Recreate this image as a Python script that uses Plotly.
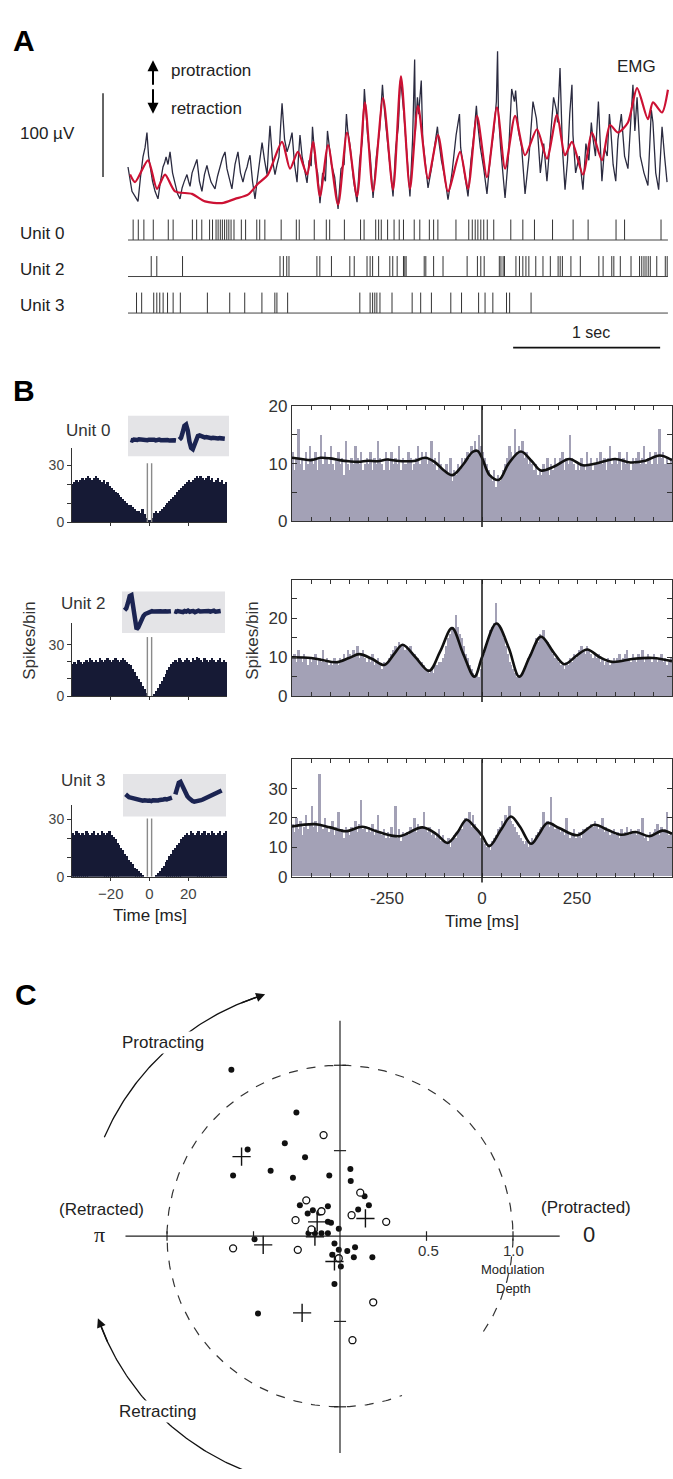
import numpy as np
import plotly.graph_objects as go

W, H = 673, 1479
FONT = "Liberation Sans, Arial, Helvetica, sans-serif"

def X(p): return p / W
def Y(p): return 1 - p / H
def dxd(a, b): return [a / W, b / W]
def dyd(top, bottom): return [1 - bottom / H, 1 - top / H]

# ---------------- Panel A data ----------------
emg_red_t = [0.014,0.048,0.136,0.197,0.252,0.320,0.435,0.524,0.639,0.728,0.816,0.884,0.952,1.048,1.102,1.156,
             1.218,1.259,1.306,1.361,1.429,1.490,1.558,1.612,1.667,1.735,1.803,1.857,1.918,1.973,2.041,2.109,
             2.177,2.259,2.313,2.374,2.442,2.510,2.565,2.633,2.701,2.782,2.850,2.918,2.973,3.020,3.095,3.156,
             3.224,3.279,3.333,3.401,3.463,3.537,3.571,3.633,3.673]
emg_red_uv = [38,29,55,21,38,18,15,6,4,9,14,27,38,77,45,65,
              38,77,12,73,2,88,12,124,18,129,20,155,21,120,33,85,
              18,65,21,108,35,118,45,108,61,92,57,109,61,77,38,88,
              55,97,88,100,141,104,124,112,139]

emg_black = [
    (0.000,47),(0.013,30),(0.027,18),(0.048,12),(0.068,6),(0.085,35),(0.102,59),(0.116,70),(0.129,88),(0.140,60),
    (0.150,47),(0.167,30),(0.184,18),(0.194,14),(0.204,9),(0.221,30),(0.238,47),(0.249,52),(0.259,59),(0.272,50),
    (0.286,65),(0.303,40),(0.320,26),(0.337,15),(0.354,9),(0.368,22),(0.381,29),(0.391,34),(0.401,38),(0.412,30),
    (0.422,24),(0.436,40),(0.449,47),(0.459,50),(0.469,56),(0.486,30),(0.503,18),(0.520,38),(0.537,49),(0.551,38),
    (0.565,29),(0.578,25),(0.592,21),(0.609,36),(0.626,47),(0.643,58),(0.660,65),(0.673,45),(0.687,35),(0.697,28),
    (0.707,21),(0.728,50),(0.748,65),(0.765,40),(0.782,29),(0.796,40),(0.810,47),(0.820,55),(0.830,61),(0.847,30),
    (0.864,9),(0.878,30),(0.891,47),(0.902,60),(0.912,76),(0.929,55),(0.946,38),(0.956,70),(0.966,96),(0.983,55),
    (1.000,38),(1.014,50),(1.027,59),(1.038,95),(1.048,123),(1.065,80),(1.082,65),(1.099,75),(1.116,88),(1.133,50),
    (1.150,29),(1.160,60),(1.170,85),(1.184,60),(1.197,47),(1.208,35),
    (1.218,28),(1.232,55),(1.246,48),(1.255,95),(1.262,80),(1.275,50),(1.290,40),(1.306,4),(1.324,40),(1.343,30),
    (1.357,90),(1.365,78),(1.384,50),(1.406,35),(1.429,-3),(1.449,45),(1.470,50),(1.486,110),(1.494,92),(1.512,70),
    (1.535,30),(1.558,5),(1.576,55),(1.594,78),(1.608,140),(1.616,120),(1.630,85),(1.648,60),(1.667,10),(1.690,60),
    (1.712,92),(1.731,145),(1.739,125),(1.758,90),(1.780,50),(1.803,12),(1.821,70),(1.839,95),(1.853,150),(1.861,140),
    (1.877,110),(1.898,65),(1.918,12),(1.936,80),(1.950,175),(1.955,90),(1.969,130),(1.977,110),(1.995,150),(2.005,80),
    (2.020,55),(2.041,22),(2.064,45),(2.087,70),(2.105,95),(2.113,80),(2.132,55),(2.155,35),(2.177,8),(2.204,40),
    (2.232,85),(2.255,110),(2.263,70),(2.280,50),(2.296,30),(2.313,12),(2.333,55),(2.353,85),(2.370,120),(2.378,100),
    (2.397,70),(2.420,45),(2.442,15),(2.465,60),(2.488,90),(2.506,125),(2.514,185),(2.520,110),(2.535,70),(2.550,40),
    (2.565,10),(2.588,60),(2.610,140),(2.629,125),(2.637,138),(2.656,90),(2.678,70),(2.701,15),(2.728,60),(2.755,125),
    (2.778,105),(2.786,90),(2.805,40),(2.828,75),(2.850,30),(2.873,80),(2.895,130),(2.914,115),(2.922,100),(2.939,165),
    (2.955,70),(2.973,20),(2.990,55),(3.005,110),(3.020,145),(3.027,85),(3.045,40),(3.070,60),(3.095,20),(3.115,75),
    (3.135,55),(3.152,100),(3.160,85),(3.180,60),(3.200,125),(3.224,30),(3.242,70),(3.260,60),(3.275,110),(3.283,95),
    (3.300,50),(3.318,30),(3.333,80),(3.356,110),(3.378,60),(3.401,45),(3.420,100),(3.435,145),(3.448,90),(3.463,130),
    (3.485,60),(3.510,40),(3.537,25),(3.550,80),(3.560,115),(3.571,100),(3.590,40),(3.610,20),(3.633,95),(3.650,60),
    (3.667,29)]
emg_black_t = [p[0] for p in emg_black]
emg_black_uv = [p[1] for p in emg_black]

unit0_spikes = [0.035,0.070,0.108,0.172,0.274,0.307,0.438,0.467,0.502,0.555,0.575,0.599,0.613,0.628,0.642,0.657,
                0.672,0.686,0.701,0.721,0.771,0.800,0.876,0.896,0.931,1.042,1.145,1.165,1.267,1.349,1.372,1.472,
                1.582,1.606,1.685,1.705,1.723,1.766,1.810,1.845,1.874,1.947,1.985,2.050,2.079,2.108,2.231,2.318,
                2.342,2.362,2.380,2.400,2.420,2.444,2.488,2.604,2.686,2.765,2.888,3.028,3.130,3.320,3.378,3.626]
unit2_spikes = [0.158,0.196,0.371,1.034,1.057,1.080,1.095,1.285,1.305,1.384,1.509,1.539,1.626,1.647,1.664,1.705,
                1.781,1.801,1.831,1.874,1.883,1.892,2.015,2.026,2.079,2.143,2.307,2.377,2.400,2.423,2.526,2.537,
                2.552,2.561,2.639,2.663,2.686,2.707,2.727,2.774,2.823,2.873,2.926,2.940,2.955,3.013,3.077,3.203,
                3.232,3.291,3.305,3.349,3.422,3.480,3.495,3.510,3.524,3.539,3.553,3.597,3.655,3.668]
unit3_spikes = [0.058,0.093,0.175,0.196,0.216,0.239,0.269,0.307,0.356,0.540,0.692,0.794,0.911,0.999,1.013,1.086,
                1.577,1.647,1.664,1.679,1.693,1.714,1.796,1.933,1.991,2.064,2.196,2.269,2.385,2.429,2.482,2.575,
                2.596,2.742]
raster_units = ["Unit 0", "Unit 2", "Unit 3"]

# ---------------- Panel B data ----------------
acg_u0 = [20,21,22,21,22,23,22,23,24,23,22,23,24,23,22,21,22,20,21,19,
          18,17,16,15,14,13,12,11,10,9,9,8,7,6,6,5,7,4,2,1,
          1,2,5,6,5,6,7,8,9,10,11,12,13,14,16,17,18,19,20,21,
          22,21,22,23,24,23,24,23,22,23,24,22,23,21,22,23,21,22,20,21]
acg_u2 = [19,20,19,21,20,19,20,21,20,22,21,20,21,20,22,21,20,21,22,21,
          20,21,22,21,20,21,22,21,20,19,18,16,14,12,10,8,6,4,2,0,
          0,0,1,3,5,7,9,11,13,15,17,19,20,21,20,22,21,20,21,22,
          21,20,22,21,23,22,21,20,22,21,20,21,22,21,20,21,22,20,21,20]
acg_u3 = [23,22,24,23,22,23,22,24,23,22,23,24,22,23,22,24,23,22,23,24,
          22,21,20,18,17,15,14,12,11,9,8,7,5,4,3,2,1,0,0,0,
          0,0,0,1,2,3,5,6,8,9,11,12,14,15,17,18,20,21,22,23,
          22,24,23,22,23,24,22,23,24,22,23,22,24,23,22,23,24,22,23,24]
acg_refractory_top = [31, 34.5, 30.5]

ccg_u0 = [12,9,11,16,10,11,9,12,10,13, 11,10,12,9,11,15,10,12,11,10,
          13,10,9,11,12,10,11,8,14,10, 9,11,10,13,11,10,12,9,10,11,
          10,12,9,11,10,14,11,10,9,12, 11,9,12,10,11,10,13,9,11,10,
          10,12,11,9,10,11,13,10,12,11, 12,10,11,14,10,11,9,12,10,9,
          9,10,8,11,7,9,8,10,9,11, 10,11,12,11,13,12,14,12,15,13,
          12,11,10,9,8,7,9,6,8,7, 8,9,10,11,13,12,11,16,12,13,
          12,14,11,12,10,11,10,9,10,8, 9,8,10,9,11,8,10,9,11,10,
          10,11,12,9,11,10,15,11,10,9, 10,9,11,10,9,12,10,11,9,10,
          11,10,12,10,11,9,11,13,10,11, 11,10,12,9,11,10,12,10,9,11,
          10,11,12,10,11,13,10,11,12,10, 11,12,10,16,11,12,10,11,10,11]
ccg_u2 = [10,11,9,12,10,9,11,10,8,10, 9,10,11,8,10,9,12,9,10,8,
          9,8,10,9,8,10,9,11,10,12, 11,10,12,11,13,10,11,12,10,9,
          10,9,11,8,9,10,8,7,9,8, 9,10,11,12,13,12,14,13,13,12,
          13,12,13,11,11,10,10,9,9,8, 7,7,6,7,6,8,8,9,9,10,
          11,13,15,16,18,17,21,18,16,15, 13,11,10,8,7,6,5,6,5,7,
          9,11,13,15,17,18,19,24,19,18, 17,15,13,11,9,8,7,6,5,5,
          5,6,7,8,10,11,12,13,15,14, 16,15,17,14,14,13,12,11,10,10,
          9,8,8,7,9,8,10,9,11,10, 11,12,13,12,11,13,12,11,10,11,
          10,11,9,10,8,9,10,8,9,10, 9,10,11,9,10,11,12,10,9,11,
          10,9,11,10,12,9,10,11,10,9, 11,10,9,10,11,9,10,8,9,10]
ccg_u3 = [18,15,20,16,19,14,17,21,16,18, 24,17,19,15,35,18,16,20,17,15,
          16,19,14,17,22,15,16,13,17,15, 14,17,16,19,15,18,26,16,17,15,
          17,15,18,14,16,21,15,14,16,13, 15,13,17,14,24,13,16,12,15,14,
          15,14,17,16,20,15,18,16,17,22, 16,15,17,14,15,13,14,16,12,14,
          12,11,13,10,12,14,13,15,17,16, 18,20,19,22,17,21,18,16,15,13,
          12,11,10,11,9,12,13,14,16,17, 19,18,21,20,24,19,18,17,15,14,
          13,12,11,12,10,11,13,12,14,15, 16,17,22,18,19,17,27,18,16,17,
          17,15,16,14,20,15,13,14,16,13, 14,15,13,16,15,17,16,18,17,19,
          18,16,17,20,15,17,16,14,15,16, 14,15,13,16,14,15,17,14,16,15,
          15,14,16,15,20,13,14,12,15,14, 15,16,18,14,17,15,16,22,14,15]

curve_u0_t = [-500,-475,-450,-425,-400,-375,-350,-325,-300,-275,-250,-225,-200,-175,-150,-125,-100,-78,-50,-25,-12,0,
              20,45,70,102,130,155,190,230,265,300,350,390,430,467,500]
curve_u0_v = [11.0,10.8,10.6,11.0,10.9,10.6,10.4,10.3,10.5,10.4,10.7,10.5,10.4,10.5,11.0,10.3,8.8,8.0,9.8,12.0,12.2,11.0,
              8.0,7.2,10.0,12.1,10.5,8.8,9.5,10.8,9.7,10.0,10.8,10.2,10.5,11.4,10.6]
curve_u2_t = [-500,-450,-420,-384,-350,-323,-290,-257,-230,-209,-175,-139,-110,-79,-50,-20,0,38,70,98,125,155,190,217,
              250,277,310,343,400,450,500]
curve_u2_v = [10.0,9.8,9.3,8.7,9.8,10.8,9.6,8.0,11.0,13.2,10.0,6.5,11.5,17.5,11.0,5.0,10.0,18.7,12.5,5.0,10.0,15.3,11.0,
              8.2,10.5,12.0,10.0,8.8,9.6,9.8,9.0]
curve_u3_t = [-500,-440,-400,-358,-315,-272,-217,-157,-120,-91,-65,-41,-20,0,19,50,76,100,129,150,172,203,251,296,330,
              366,405,440,475,500]
curve_u3_v = [17.1,17.9,16.8,15.5,17.0,15.2,13.8,16.8,14.5,11.5,15.0,19.4,17.0,14.0,10.4,16.0,20.5,17.0,11.2,14.5,18.3,
              16.6,14.1,17.7,16.0,14.3,15.2,13.8,15.7,14.6]

wave_u0 = [-0.22,-0.25,-0.2,-0.24,-0.22,-0.18,-0.2,-0.22,-0.19,-0.2,-0.23,-0.2,-0.18,-0.22,-0.2,-0.24,-0.21,-0.2,
           -0.23,-0.22,-0.2,-0.24,-0.22,-0.25,-0.23,-0.26,-0.24,-0.25, None,
           -0.2,-0.1,0.2,0.55,0.62,0.3,-0.3,-0.65,-0.72,-0.5,-0.2,0.0,0.03,-0.02,-0.05,-0.08,-0.06,-0.1,-0.08,
           -0.12,-0.1,-0.13,-0.1,-0.14,-0.12,-0.15,-0.13,-0.15]
wave_u2 = [0.1,0.2,0.5,0.85,0.9,0.4,-0.4,-0.9,-0.8,-0.55,-0.35,-0.2,-0.1,-0.05,0,0.02,0.05,0.03,0.05,0.04,0.06,
           0.05,0.04,0.06,0.05,0.03,0.06,0.05, None,
           0.05,0.02,0.06,0.03,0.05,0,0.06,0.03,0.08,0.02,0.05,0.06,0.0,0.05,0.08,0.03,0.04,0.07,0.02,0.05,0.06,
           0.03,0.05,0.08,0.02,0.05,0.04,0.06]
wave_u3 = [0.05,-0.05,-0.1,-0.12,-0.15,-0.18,-0.2,-0.22,-0.25,-0.24,-0.28,-0.26,-0.3,-0.28,-0.27,-0.3,-0.26,-0.28,
           -0.25,-0.27,-0.24,-0.25,-0.22,-0.2,-0.22,-0.18,-0.15,-0.12, None,
           0.05,0.3,0.65,0.7,0.5,0.3,0.1,-0.05,-0.15,-0.25,-0.3,-0.33,-0.32,-0.3,-0.3,-0.25,-0.22,-0.18,-0.15,
           -0.1,-0.05,0.0,0.05,0.1,0.15,0.18,0.22,0.25]

# ---------------- Panel C data (modulation vectors) ----------------
c_filled_x = [-0.628,-0.252,-0.319,-0.534,-0.202,-0.618,-0.401,-0.272,-0.062,0.060,0.062,0.142,0.167,0.105,-0.232,
              -0.187,-0.157,-0.120,-0.070,-0.070,-0.052,-0.007,-0.182,-0.145,-0.107,-0.070,-0.494,-0.032,-0.007,
              0.042,0.087,0.080,0.187,-0.045,0.005,-0.032,-0.474]
c_filled_y = [0.973,0.723,0.543,0.506,0.461,0.355,0.382,0.341,0.355,0.393,0.322,0.233,0.180,0.155,0.180,
              0.132,0.151,0.136,0.174,0.083,0.078,0.043,0.016,0.016,0.016,0.016,-0.019,-0.043,-0.081,
              -0.087,-0.066,-0.124,-0.124,-0.110,-0.178,-0.281,-0.453]
c_open_x = [-0.095,0.117,-0.195,-0.107,0.067,-0.257,0.267,-0.165,-0.618,-0.244,-0.007,0.192,0.072]
c_open_y = [0.591,0.254,0.209,0.145,0.122,0.093,0.083,0.039,-0.072,-0.081,-0.130,-0.388,-0.610]
c_cross_x = [-0.569,-0.444,-0.132,-0.145,0.147,-0.032,-0.219]
c_cross_y = [0.465,-0.052,0.083,-0.004,0.103,-0.149,-0.450]

# ================= figure =================
fig = go.Figure()
shapes, annots = [], []

def txt(s, x, y, size=17, xa="center", ya="middle", color="#222", family=FONT, **kw):
    annots.append(dict(text=s, x=X(x), y=Y(y), xref="paper", yref="paper", showarrow=False,
                       font=dict(size=size, family=family, color=color), xanchor=xa, yanchor=ya, **kw))

# --- Panel A ---
fig.add_trace(go.Scatter(x=emg_black_t, y=emg_black_uv, mode="lines",
                         line=dict(color="#2b2b40", width=1.3), xaxis="x", yaxis="y"))
fig.add_trace(go.Scatter(x=emg_red_t, y=emg_red_uv, mode="lines",
                         line=dict(color="#cc1133", width=2.2, shape="spline", smoothing=0.7), xaxis="x", yaxis="y"))
t_end = 3.673
for row, spikes in zip([2, 1, 0], [unit0_spikes, unit2_spikes, unit3_spikes]):
    xs, ys = [], []
    for s in spikes:
        xs += [s, s, None]
        ys += [row, row + 0.56, None]
    fig.add_trace(go.Scatter(x=xs, y=ys, mode="lines", line=dict(color="#333", width=1),
                             xaxis="x2", yaxis="y2"))
    shapes.append(dict(type="line", xref="x2", yref="y2", x0=0, x1=t_end, y0=row, y1=row,
                       line=dict(color="#444", width=1)))
shapes.append(dict(type="line", xref="x", yref="y", x0=-0.17, x1=-0.17, y0=35, y1=135,
                   line=dict(color="#111", width=1.3)))
shapes.append(dict(type="line", xref="x2", yref="y2", x0=2.62, x1=3.62, y0=-0.946, y1=-0.946,
                   line=dict(color="#111", width=1.6)))

txt("<b>A</b>", 24, 32, size=30, color="#000")
txt("protraction", 169, 62, xa="left")
txt("retraction", 169, 101, xa="left")
txt("100 µV", 18, 126, xa="left")
txt("EMG", 615, 58, size=17, xa="left")
txt("1 sec", 591, 328, size=16)
for lab, yy in zip(raster_units, [227, 264, 300]):
    txt(lab, 18, yy, xa="left")
for yh, ay in [(52, 26), (106, -26)]:
    annots.append(dict(x=X(153), y=Y(yh), xref="paper", yref="paper", ax=0, ay=ay, showarrow=True,
                       arrowhead=2, arrowsize=1.1, arrowwidth=2, arrowcolor="#000", text=""))

# --- Panel B ACGs ---
acg_x = np.arange(-39.5, 40, 1.0)
for i, (vals, top) in enumerate(zip([acg_u0, acg_u2, acg_u3], acg_refractory_top)):
    ax_n = 3 + i
    fig.add_trace(go.Bar(x=acg_x, y=vals, width=1.0, marker=dict(color="#161a35", line=dict(width=0)),
                         xaxis=f"x{ax_n}", yaxis=f"y{ax_n}"))
    for xv in (-1.1, 1.1):
        shapes.append(dict(type="line", xref=f"x{ax_n}", yref=f"y{ax_n}", x0=xv, x1=xv, y0=0, y1=top,
                           line=dict(color="#8a8a8a", width=1.4)))

# --- Panel B CCGs ---
ccg_x = np.arange(-497.5, 500, 5.0)
for i, (vals, ct, cv) in enumerate(zip([ccg_u0, ccg_u2, ccg_u3],
                                       [curve_u0_t, curve_u2_t, curve_u3_t],
                                       [curve_u0_v, curve_u2_v, curve_u3_v])):
    ax_n = 6 + i
    fig.add_trace(go.Bar(x=ccg_x, y=vals, width=5.0, marker=dict(color="#a3a1b6", line=dict(width=0)),
                         xaxis=f"x{ax_n}", yaxis=f"y{ax_n}"))
    fig.add_trace(go.Scatter(x=ct, y=cv, mode="lines", line=dict(color="#111", width=2.6, shape="spline", smoothing=1.0),
                             xaxis=f"x{ax_n}", yaxis=f"y{ax_n}"))
    shapes.append(dict(type="line", xref=f"x{ax_n}", yref=f"y{ax_n} domain", x0=0, x1=0, y0=-0.05, y1=1,
                       line=dict(color="#222", width=1.6)))

# --- Waveform insets ---
for i, w in enumerate([wave_u0, wave_u2, wave_u3]):
    ax_n = 9 + i
    fig.add_trace(go.Scatter(x=list(range(len(w))), y=w, mode="lines", connectgaps=False,
                             line=dict(color="#1b2452", width=4.5), xaxis=f"x{ax_n}", yaxis=f"y{ax_n}"))
    shapes.append(dict(type="rect", xref=f"x{ax_n} domain", yref=f"y{ax_n} domain", x0=0, x1=1, y0=0, y1=1,
                       fillcolor="#e4e4e7", line=dict(width=0), layer="below"))

txt("<b>B</b>", 24, 386, size=30, color="#000")
txt("Unit 0", 88, 427, color="#333")
txt("Unit 2", 83, 602, color="#333")
txt("Unit 3", 83, 782, color="#333")
txt("Spikes/bin", 30, 640, textangle=-90, color="#333")
txt("Spikes/bin", 253, 640, textangle=-90, color="#333")
txt("Time [ms]", 150, 918)
txt("Time [ms]", 482, 924)

# --- Panel C ---
ang = np.deg2rad(np.linspace(-34, 291, 400))
fig.add_trace(go.Scatter(x=np.cos(ang), y=np.sin(ang), mode="lines",
                         line=dict(color="#333", width=1.2, dash="dash"), xaxis="x12", yaxis="y12"))
R_ARC = 1.48
for a0, a1 in [(157, 109), (248, 201)]:
    aa = np.deg2rad(np.linspace(a0, a1, 80))
    fig.add_trace(go.Scatter(x=R_ARC * np.cos(aa), y=R_ARC * np.sin(aa), mode="lines",
                             line=dict(color="#111", width=1.3), xaxis="x12", yaxis="y12"))
    ah, at = np.deg2rad(a1 - 2), np.deg2rad(a1 + 4)
    annots.append(dict(x=R_ARC * np.cos(ah), y=R_ARC * np.sin(ah), ax=R_ARC * np.cos(at), ay=R_ARC * np.sin(at),
                       xref="x12", yref="y12", axref="x12", ayref="y12", showarrow=True, text="",
                       arrowhead=2, arrowsize=1.3, arrowwidth=1.4, arrowcolor="#111"))
fig.add_trace(go.Scatter(x=c_filled_x, y=c_filled_y, mode="markers",
                         marker=dict(color="#111", size=6), xaxis="x12", yaxis="y12"))
fig.add_trace(go.Scatter(x=c_open_x, y=c_open_y, mode="markers",
                         marker=dict(color="white", size=7, line=dict(color="#111", width=1.3)),
                         xaxis="x12", yaxis="y12"))
fig.add_trace(go.Scatter(x=c_cross_x, y=c_cross_y, mode="markers",
                         marker=dict(symbol="cross-thin", size=13, line=dict(color="#111", width=1.4)),
                         xaxis="x12", yaxis="y12"))
shapes.append(dict(type="line", xref="x12", yref="y12", x0=-1.24, x1=1.27, y0=0, y1=0, line=dict(color="#222", width=1.2)))
shapes.append(dict(type="line", xref="x12", yref="y12", x0=0, x1=0, y0=-1.27, y1=1.26, line=dict(color="#222", width=1.2)))
for tv in (-1.0, -0.5, 0.5, 1.0):
    shapes.append(dict(type="line", xref="x12", yref="y12", x0=tv, x1=tv, y0=-0.028, y1=0.028,
                       line=dict(color="#222", width=1.2)))
    shapes.append(dict(type="line", xref="x12", yref="y12", x0=-0.035, x1=0.035, y0=tv, y1=tv,
                       line=dict(color="#222", width=1.2)))

txt("<b>C</b>", 26, 998, size=30, color="#000")
txt("Protracting", 163, 1047, bgcolor="white")
txt("Retracting", 157, 1421, bgcolor="white")
txt("(Retracted)", 101, 1216)
txt("π", 99, 1241, size=22, family="Liberation Serif, DejaVu Serif, serif")
txt("(Protracted)", 586, 1214)
txt("0", 589, 1241, size=22)
txt("0.5", 429, 1258, size=15, color="#333")
txt("1.0", 513, 1258, size=15, color="#333")
txt("Modulation", 513, 1277, size=13)
txt("Depth", 513, 1296, size=13)

# ================= layout / axes =================
hidden = dict(visible=False, showgrid=False, zeroline=False)
lay = dict(
    width=W, height=H, margin=dict(l=0, r=0, t=0, b=0), showlegend=False,
    paper_bgcolor="white", plot_bgcolor="rgba(0,0,0,0)", bargap=0,
    font=dict(family=FONT, color="#222"),
    xaxis=dict(domain=[0, 1], range=[-128 / 147, 545 / 147], anchor="y", **hidden),
    yaxis=dict(domain=dyd(30, 205), range=[-5.88, 200], anchor="x", **hidden),
    xaxis2=dict(domain=[0, 1], range=[-128 / 147, 545 / 147], anchor="y2", **hidden),
    yaxis2=dict(domain=dyd(200, 350), range=[-1.135, 2.919], anchor="x2", **hidden),
    shapes=shapes, annotations=annots,
)

acg_ydom = [dyd(445, 520), dyd(622, 696), dyd(806, 879)]
acg_yrng = [[0, 38.8], [0, 42.7], [0, 37.8]]
for i in range(3):
    n = 3 + i
    lay[f"xaxis{n}"] = dict(domain=dxd(72, 227), range=[-40, 40], anchor=f"y{n}", showline=True,
                            linecolor="#333", linewidth=1, ticks="outside", ticklen=3, tickcolor="#333",
                            tickvals=[-20, 0, 20], showticklabels=(i == 2), showgrid=False, zeroline=False,
                            tickfont=dict(size=15, color="#444"))
    lay[f"yaxis{n}"] = dict(domain=acg_ydom[i], range=acg_yrng[i], anchor=f"x{n}", showline=True,
                            linecolor="#333", linewidth=1, ticks="outside", ticklen=4, tickcolor="#333",
                            tickvals=[0, 10, 20, 30], ticktext=["0", "", "", "30"], showgrid=False,
                            zeroline=False, tickfont=dict(size=14, color="#444"))

ccg_ydom = [dyd(402, 519), dyd(578, 696), dyd(760, 879)]
ccg_yrng = [[0, 20], [0, 30], [0, 40]]
ccg_tv = [[0, 5, 10, 15, 20], [0, 5, 10, 15, 20, 25, 30], [0, 10, 20, 30, 40]]
ccg_tt = [["0", "", "10", "", "20"], ["0", "", "10", "", "20", "", ""], ["0", "10", "20", "30", ""]]
xt = list(range(-500, 501, 50))
xtt = [str(v) if v in (-250, 0, 250) else "" for v in xt]
for i in range(3):
    n = 6 + i
    lay[f"xaxis{n}"] = dict(domain=dxd(292, 672), range=[-500, 500], anchor=f"y{n}", showline=True,
                            mirror="ticks", linecolor="#333", linewidth=1.3, ticks="inside", ticklen=4,
                            tickcolor="#333", tickvals=xt, ticktext=xtt, showticklabels=(i == 2),
                            showgrid=False, zeroline=False, tickfont=dict(size=17, color="#333"),
                            ticklabelstandoff=6)
    lay[f"yaxis{n}"] = dict(domain=ccg_ydom[i], range=ccg_yrng[i], anchor=f"x{n}", showline=True,
                            mirror="ticks", linecolor="#333", linewidth=1.3, ticks="inside", ticklen=5,
                            tickcolor="#333", tickvals=ccg_tv[i], ticktext=ccg_tt[i], showgrid=False,
                            zeroline=False, tickfont=dict(size=17, color="#333"))

wave_xdom = [dxd(128, 229), dxd(122, 225), dxd(123, 226)]
wave_ydom = [dyd(412, 453), dyd(590, 632), dyd(775, 818)]
for i in range(3):
    n = 9 + i
    lay[f"xaxis{n}"] = dict(domain=wave_xdom[i], range=[-1.5, 58.5], anchor=f"y{n}", **hidden)
    lay[f"yaxis{n}"] = dict(domain=wave_ydom[i], range=[-1.1, 1.1], anchor=f"x{n}", **hidden)

lay["xaxis12"] = dict(domain=[0, 1], range=[-340 / 173, 333 / 173], anchor="y12", **hidden)
lay["yaxis12"] = dict(domain=dyd(960, 1479), range=[(1243 - 1479) / 173, (1243 - 960) / 173], anchor="x12", **hidden)

fig.update_layout(**lay)
fig.write_html("out.html", config={"displayModeBar": False},
               post_script="document.body.style.margin='0px';")
